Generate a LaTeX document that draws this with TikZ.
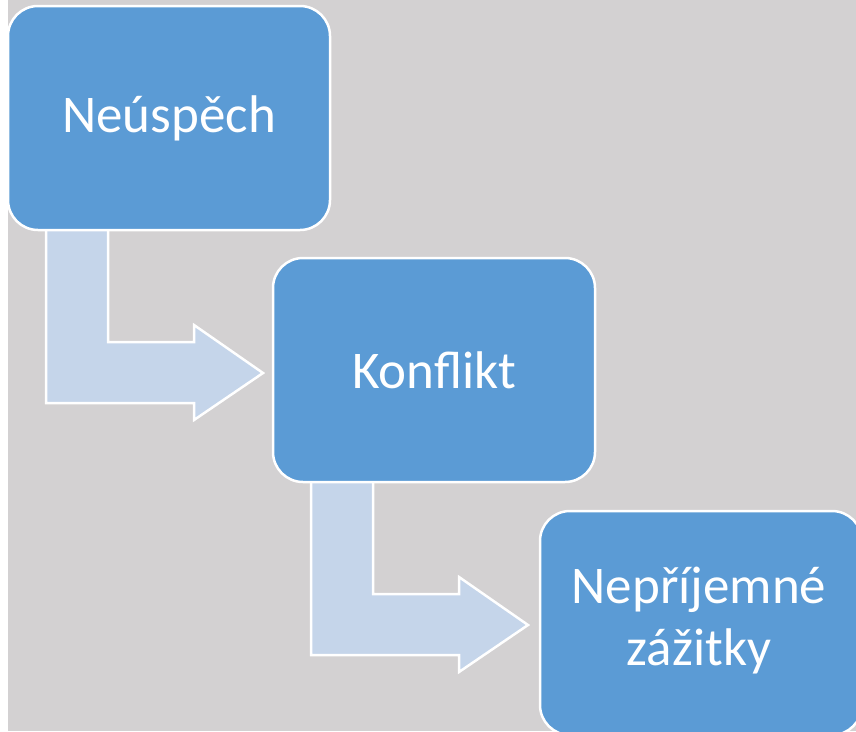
\documentclass[tikz,border=0pt]{standalone}
\usepackage{fontspec}
\setmainfont{Carlito}
\definecolor{bggray}{HTML}{D3D1D2}
\definecolor{boxblue}{HTML}{5B9BD5}
\definecolor{arrowblue}{HTML}{C5D5EA}
\begin{document}
\begin{tikzpicture}[x=1pt,y=-1pt,
  stagebox/.style={draw=white, line width=2.5pt, fill=boxblue, rounded corners=30pt,
    minimum width=322pt, minimum height=224pt, text=white, align=center,
    font=\fontsize{53}{62}\selectfont, inner sep=0pt},
  blockarrow/.style={draw=white, line width=2.5pt, fill=arrowblue, line join=miter}]
\useasboundingbox (0,0) rectangle (856,731);
\fill[white] (0,0) rectangle (8,731);
\fill[bggray] (8,0) rectangle (856,731);
% block arrows
\draw[blockarrow] (46,229) -- (108,229) -- (108,342) -- (194,342) -- (194,325) -- (263,373)
  -- (194,420) -- (194,403) -- (46,403) -- cycle;
\draw[blockarrow] (311,481) -- (373,481) -- (373,594) -- (459,594) -- (459,577) -- (528,625)
  -- (459,672) -- (459,655) -- (311,655) -- cycle;
% boxes
\node[stagebox] (a) at (169,118) {Neúspěch};
\node[stagebox] (b) at (434,370) {Konflikt};
\node[stagebox] (c) at (701,623) {};
\node[text=white, align=center, font=\fontsize{53}{62}\selectfont, inner sep=0pt] (ct) at (699,621) {Nepříjemné\\zážitky};
\end{tikzpicture}
\end{document}
